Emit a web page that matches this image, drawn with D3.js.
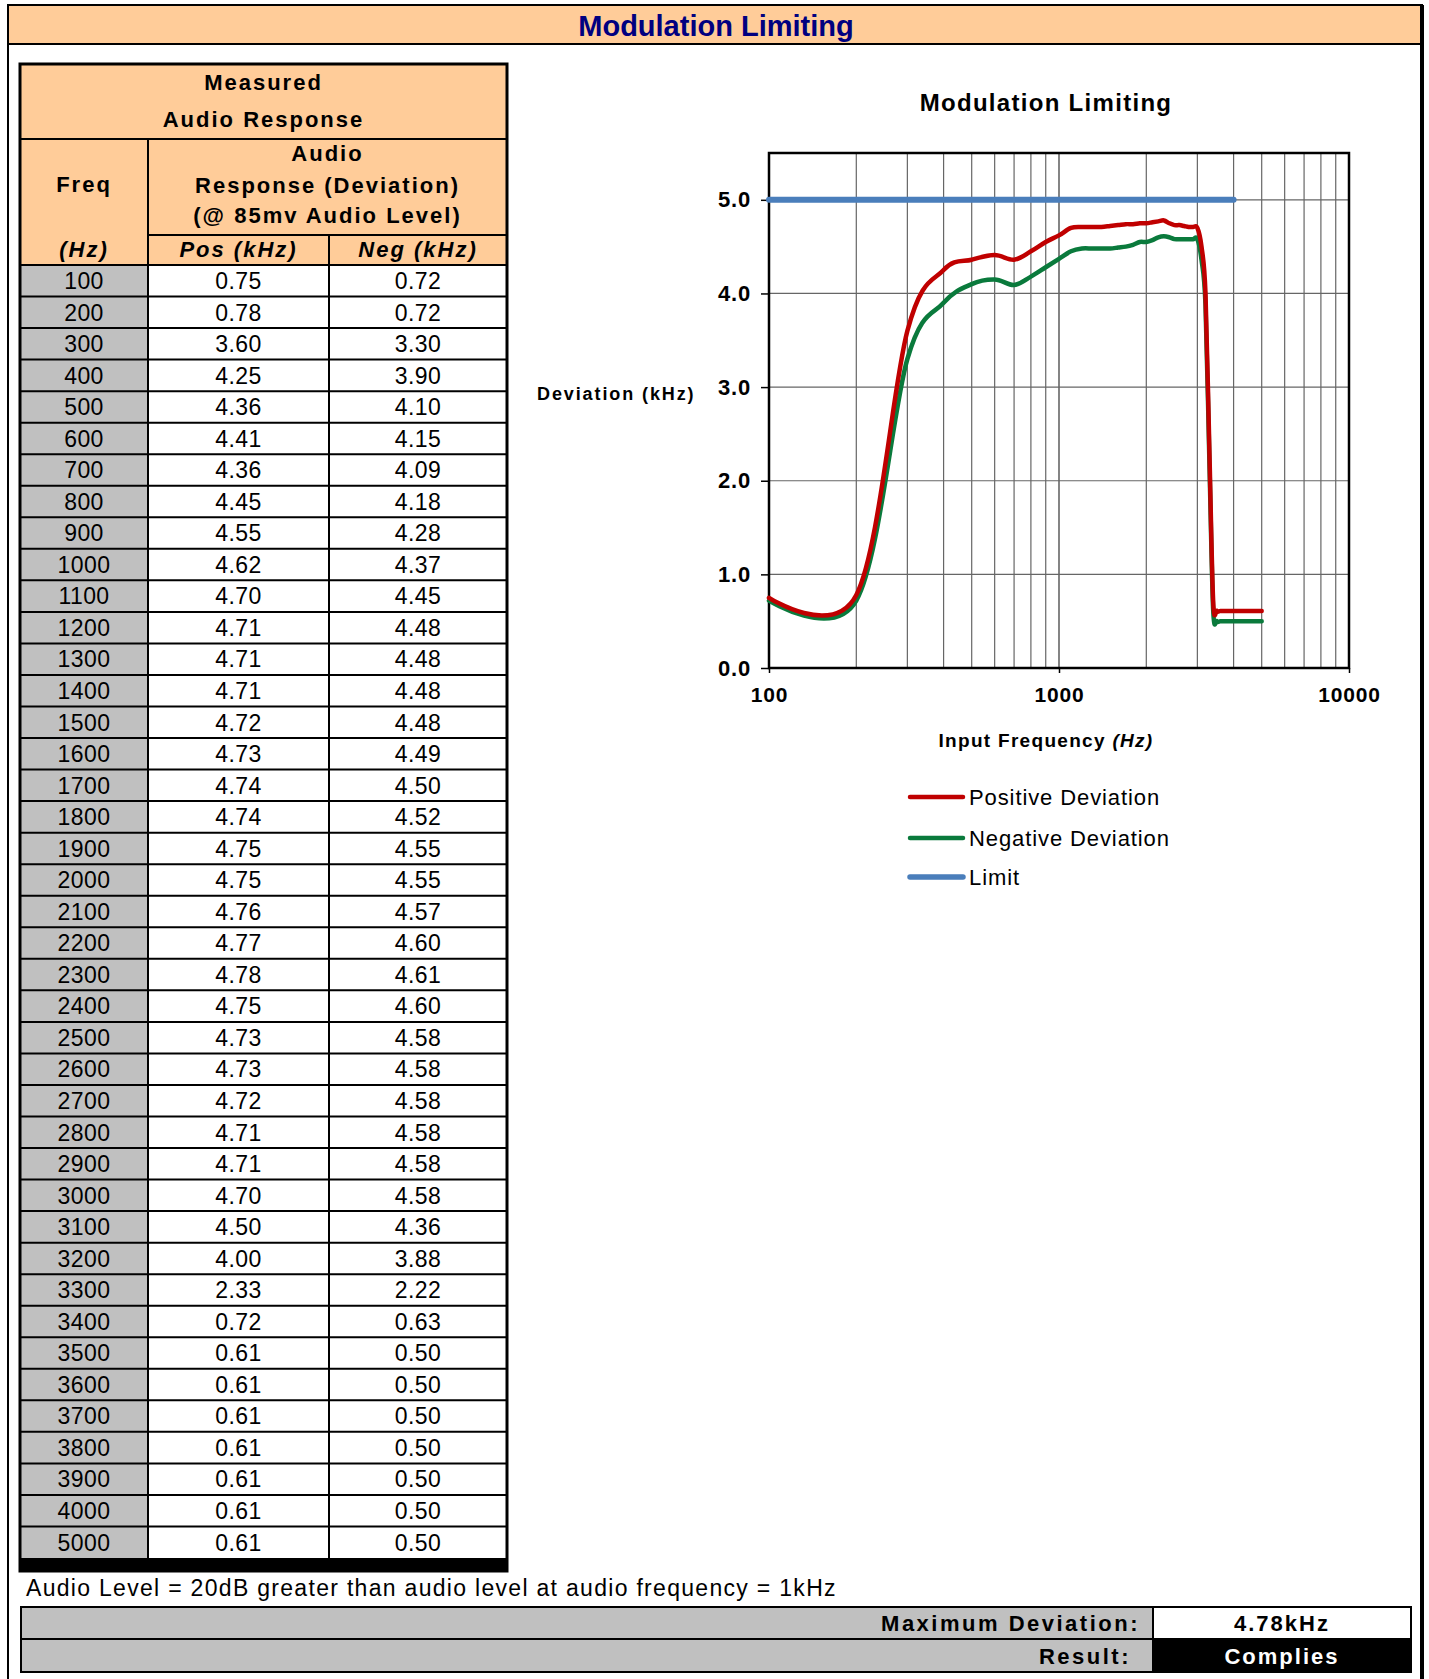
<!DOCTYPE html>
<html lang="en">
<head>
<meta charset="UTF-8">
<script src="https://d3js.org/d3.v7.min.js"></script>
<title>Modulation Limiting</title>
<style>
    body { margin: 0; background: #fff; }
    text { font-family: "Liberation Sans", Arial, sans-serif; fill: #000; }
</style>
</head>
<body>
<script>
    // data
    const freqs = [100, 200, 300, 400, 500, 600, 700, 800, 900, 1000,
        1100, 1200, 1300, 1400, 1500, 1600, 1700, 1800, 1900, 2000,
        2100, 2200, 2300, 2400, 2500, 2600, 2700, 2800, 2900, 3000,
        3100, 3200, 3300, 3400, 3500, 3600, 3700, 3800, 3900, 4000, 5000];
    const posDev = [0.75, 0.78, 3.60, 4.25, 4.36, 4.41, 4.36, 4.45, 4.55, 4.62,
        4.70, 4.71, 4.71, 4.71, 4.72, 4.73, 4.74, 4.74, 4.75, 4.75,
        4.76, 4.77, 4.78, 4.75, 4.73, 4.73, 4.72, 4.71, 4.71, 4.70,
        4.50, 4.00, 2.33, 0.72, 0.61, 0.61, 0.61, 0.61, 0.61, 0.61, 0.61];
    const negDev = [0.72, 0.72, 3.30, 3.90, 4.10, 4.15, 4.09, 4.18, 4.28, 4.37,
        4.45, 4.48, 4.48, 4.48, 4.48, 4.49, 4.50, 4.52, 4.55, 4.55,
        4.57, 4.60, 4.61, 4.60, 4.58, 4.58, 4.58, 4.58, 4.58, 4.58,
        4.36, 3.88, 2.22, 0.63, 0.50, 0.50, 0.50, 0.50, 0.50, 0.50, 0.50];
    const limitDev = [5.0, 5.0, 5.0, 5.0, 5.0, 5.0, 5.0, 5.0, 5.0, 5.0,
        5.0, 5.0, 5.0, 5.0, 5.0, 5.0, 5.0, 5.0, 5.0, 5.0,
        5.0, 5.0, 5.0, 5.0, 5.0, 5.0, 5.0, 5.0, 5.0, 5.0,
        5.0, 5.0, 5.0, 5.0, 5.0, 5.0, 5.0, 5.0, 5.0, 5.0, null];
    const yTicks = [0, 1, 2, 3, 4, 5];
    const xTicks = [100, 1000, 10000];
    const seriesNames = ["Positive Deviation", "Negative Deviation", "Limit"];
    const seriesColors = ["#C00000", "#0A7A3C", "#4A7EBB"];
    const maxDeviation = "4.78kHz";
    const result = "Complies";
    const footNote = "Audio Level = 20dB greater than audio level at audio frequency = 1kHz";

    const svg = d3.select("body").append("svg")
        .attr("width", 1429)
        .attr("height", 1679);

    // page frame + title band
    svg.append("rect").attr("x", 8).attr("y", 5).attr("width", 1414).attr("height", 39)
        .attr("fill", "#FFCC99").attr("stroke", "#000").attr("stroke-width", 2);
    svg.append("line").attr("x1", 8).attr("x2", 8).attr("y1", 5).attr("y2", 1679)
        .attr("stroke", "#000").attr("stroke-width", 2);
    svg.append("line").attr("x1", 1422).attr("x2", 1422).attr("y1", 5).attr("y2", 1679)
        .attr("stroke", "#000").attr("stroke-width", 4);
    svg.append("text")
        .attr("x", 716).attr("y", 36)
        .attr("text-anchor", "middle")
        .style("font-size", "29px").style("font-weight", "bold").style("fill", "#000080")
        .text("Modulation Limiting");

    // ---------- table ----------
    const cols = [20, 148, 329, 507];
    const rowScale = d3.scaleBand().domain(freqs).range([265, 1558]);
    const hdr = svg.append("g");
    const bold = sel => sel.style("font-size", "22px").style("font-weight", "bold").style("letter-spacing", "2px");

    hdr.append("rect").attr("x", cols[0]).attr("y", 64).attr("width", cols[3] - cols[0]).attr("height", 201)
        .attr("fill", "#FFCC99");
    [["Measured", 82], ["Audio Response", 119]].forEach(t => {
        hdr.append("text").attr("x", (cols[0] + cols[3]) / 2).attr("y", t[1]).attr("dy", "0.35em")
            .attr("text-anchor", "middle").call(bold).text(t[0]);
    });
    hdr.append("text").attr("x", (cols[0] + cols[1]) / 2).attr("y", 184).attr("dy", "0.35em")
        .attr("text-anchor", "middle").call(bold).text("Freq");
    hdr.append("text").attr("x", (cols[0] + cols[1]) / 2).attr("y", 249).attr("dy", "0.35em")
        .attr("text-anchor", "middle").call(bold).style("font-style", "italic").text("(Hz)");
    [["Audio", 153], ["Response (Deviation)", 185], ["(@ 85mv Audio Level)", 215]].forEach(t => {
        hdr.append("text").attr("x", (cols[1] + cols[3]) / 2).attr("y", t[1]).attr("dy", "0.35em")
            .attr("text-anchor", "middle").call(bold).text(t[0]);
    });
    hdr.append("text").attr("x", (cols[1] + cols[2]) / 2).attr("y", 249).attr("dy", "0.35em")
        .attr("text-anchor", "middle").call(bold).style("font-style", "italic").text("Pos (kHz)");
    hdr.append("text").attr("x", (cols[2] + cols[3]) / 2).attr("y", 249).attr("dy", "0.35em")
        .attr("text-anchor", "middle").call(bold).style("font-style", "italic").text("Neg (kHz)");

    const rows = svg.selectAll("g.row")
        .data(freqs.map((f, i) => ({ f: f, p: posDev[i], n: negDev[i] })))
        .enter().append("g").attr("class", "row")
        .attr("transform", d => "translate(0," + rowScale(d.f) + ")");
    rows.append("rect").attr("x", cols[0]).attr("width", cols[1] - cols[0])
        .attr("height", rowScale.bandwidth()).attr("fill", "#C0C0C0");
    rows.append("rect").attr("x", cols[1]).attr("width", cols[3] - cols[1])
        .attr("height", rowScale.bandwidth()).attr("fill", "#fff");
    const cell = (sel, x, fn) => sel.append("text")
        .attr("x", x).attr("y", rowScale.bandwidth() / 2).attr("dy", "0.36em")
        .attr("text-anchor", "middle").style("font-size", "23px").style("letter-spacing", "0.4px").text(fn);
    cell(rows, (cols[0] + cols[1]) / 2, d => d.f);
    cell(rows, (cols[1] + cols[2]) / 2, d => d.p.toFixed(2));
    cell(rows, (cols[2] + cols[3]) / 2, d => d.n.toFixed(2));

    // table lines
    const grid = svg.append("g").attr("stroke", "#000").attr("stroke-width", 2);
    freqs.forEach(f => {
        grid.append("line").attr("x1", cols[0]).attr("x2", cols[3])
            .attr("y1", rowScale(f)).attr("y2", rowScale(f));
    });
    grid.append("line").attr("x1", cols[0]).attr("x2", cols[3]).attr("y1", 139).attr("y2", 139);
    grid.append("line").attr("x1", cols[1]).attr("x2", cols[3]).attr("y1", 235).attr("y2", 235);
    grid.append("line").attr("x1", cols[1]).attr("x2", cols[1]).attr("y1", 139).attr("y2", 1558);
    grid.append("line").attr("x1", cols[2]).attr("x2", cols[2]).attr("y1", 235).attr("y2", 1558);
    svg.append("rect").attr("x", cols[0]).attr("y", 1558).attr("width", cols[3] - cols[0]).attr("height", 13)
        .attr("fill", "#000");
    svg.append("rect").attr("x", cols[0]).attr("y", 64).attr("width", cols[3] - cols[0]).attr("height", 1507)
        .attr("fill", "none").attr("stroke", "#000").attr("stroke-width", 3);

    // foot note + result rows
    svg.append("text").attr("x", 26).attr("y", 1588).attr("dy", "0.35em")
        .style("font-size", "23px").style("letter-spacing", "1.3px").text(footNote);
    svg.append("rect").attr("x", 21).attr("y", 1607).attr("width", 1132).attr("height", 65)
        .attr("fill", "#C0C0C0").attr("stroke", "#000").attr("stroke-width", 2);
    svg.append("line").attr("x1", 21).attr("x2", 1411).attr("y1", 1639).attr("y2", 1639)
        .attr("stroke", "#000").attr("stroke-width", 2);
    svg.append("rect").attr("x", 1153).attr("y", 1607).attr("width", 258).attr("height", 32)
        .attr("fill", "#fff").attr("stroke", "#000").attr("stroke-width", 2);
    svg.append("rect").attr("x", 1153).attr("y", 1639).attr("width", 258).attr("height", 33)
        .attr("fill", "#000").attr("stroke", "#000").attr("stroke-width", 2);
    svg.append("text").attr("x", 1140).attr("y", 1623).attr("dy", "0.35em").attr("text-anchor", "end")
        .call(bold).style("letter-spacing", "2.5px").text("Maximum Deviation:");
    svg.append("text").attr("x", 1131).attr("y", 1656).attr("dy", "0.35em").attr("text-anchor", "end")
        .call(bold).style("letter-spacing", "2.5px").text("Result:");
    svg.append("text").attr("x", 1282).attr("y", 1623).attr("dy", "0.35em").attr("text-anchor", "middle")
        .call(bold).text(maxDeviation);
    svg.append("text").attr("x", 1282).attr("y", 1656).attr("dy", "0.35em").attr("text-anchor", "middle")
        .call(bold).style("fill", "#fff").text(result);

    // ---------- chart ----------
    const x = d3.scaleLog().domain([100, 10000]).range([769, 1349]);
    const y = d3.scaleLinear().domain([0, 5.5]).range([668, 153]);
    const chart = svg.append("g");

    chart.append("text").attr("x", 1046).attr("y", 103).attr("dy", "0.35em").attr("text-anchor", "middle")
        .style("font-size", "24px").style("font-weight", "bold").style("letter-spacing", "1.3px")
        .text("Modulation Limiting");

    // grid lines
    const minor = [200, 300, 400, 500, 600, 700, 800, 900, 1000,
        2000, 3000, 4000, 5000, 6000, 7000, 8000, 9000];
    chart.append("g").selectAll("line").data(minor).enter().append("line")
        .attr("x1", d => x(d)).attr("x2", d => x(d)).attr("y1", y(5.5)).attr("y2", y(0))
        .attr("stroke", d => d === 1000 ? "#333" : "#666").attr("stroke-width", 1.2);
    chart.append("g").selectAll("line").data(yTicks.slice(1)).enter().append("line")
        .attr("x1", x(100)).attr("x2", x(10000)).attr("y1", d => y(d)).attr("y2", d => y(d))
        .attr("stroke", "#666").attr("stroke-width", 1.2);

    // axes
    const yAxis = chart.append("g").attr("transform", "translate(" + x(100) + ",0)")
        .call(d3.axisLeft(y).tickValues(yTicks).tickFormat(d3.format(".1f")).tickSize(8).tickPadding(10));
    const xAxis = chart.append("g").attr("transform", "translate(0," + y(0) + ")")
        .call(d3.axisBottom(x).tickValues(xTicks).tickFormat(d => d).tickSize(5).tickPadding(14));
    [yAxis, xAxis].forEach(a => {
        a.select(".domain").remove();
        a.selectAll("line").attr("stroke", "#000").attr("stroke-width", 1.5);
        a.selectAll("text").style("font-size", "21px").style("font-weight", "bold")
            .style("letter-spacing", "0.8px")
            .style("font-family", "'Liberation Sans', Arial, sans-serif");
    });
    yAxis.selectAll("text").style("font-size", "22px");
    chart.append("rect").attr("x", x(100)).attr("y", y(5.5))
        .attr("width", x(10000) - x(100)).attr("height", y(0) - y(5.5))
        .attr("fill", "none").attr("stroke", "#000").attr("stroke-width", 2.5);

    // axis titles
    chart.append("text").attr("x", 537).attr("y", 394).attr("dy", "0.35em")
        .style("font-size", "18px").style("font-weight", "bold").style("letter-spacing", "1.9px")
        .text("Deviation (kHz)");
    const xt = chart.append("text").attr("x", 1046).attr("y", 740).attr("dy", "0.35em")
        .attr("text-anchor", "middle")
        .style("font-size", "19px").style("font-weight", "bold").style("letter-spacing", "1.3px");
    xt.append("tspan").text("Input Frequency ");
    xt.append("tspan").style("font-style", "italic").text("(Hz)");

    // series
    const series = [posDev, negDev, limitDev];
    const line = d3.line()
        .defined(d => d[1] != null)
        .x(d => x(d[0])).y(d => y(d[1]))
        .curve(d3.curveCardinal.tension(0));
    [2, 1, 0].forEach(k => {
        chart.append("path")
            .datum(freqs.map((f, i) => [f, series[k][i]]))
            .attr("fill", "none")
            .attr("stroke", seriesColors[k])
            .attr("stroke-width", k === 2 ? 6 : 4.5)
            .attr("stroke-linejoin", "round")
            .attr("stroke-linecap", "round")
            .attr("d", line);
    });

    // legend
    const legend = chart.append("g").selectAll("g").data(seriesNames).enter().append("g")
        .attr("transform", (d, i) => "translate(910," + [797, 838, 877][i] + ")");
    legend.append("line").attr("x1", 0).attr("x2", 53)
        .attr("stroke", (d, i) => seriesColors[i])
        .attr("stroke-width", (d, i) => i === 2 ? 5.5 : 4.5)
        .attr("stroke-linecap", "round");
    legend.append("text").attr("x", 59).attr("dy", "0.35em")
        .style("font-size", "22px").style("letter-spacing", "0.9px")
        .text(d => d);
</script>
</body>
</html>
